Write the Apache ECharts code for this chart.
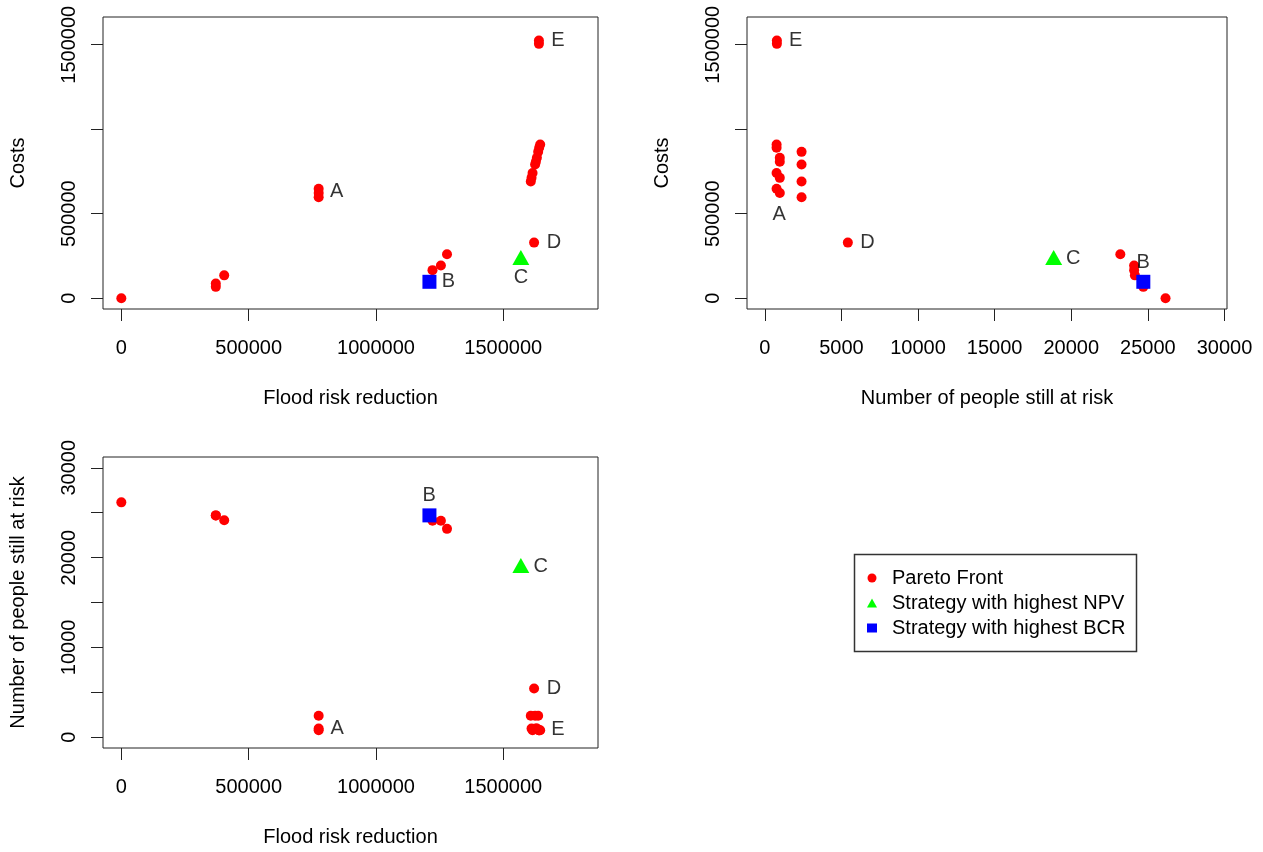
<!DOCTYPE html>
<html>
<head>
<meta charset="utf-8">
<script src="https://cdn.jsdelivr.net/npm/echarts@6/dist/echarts.min.js"></script>
<style>
html,body{margin:0;padding:0;background:#fff;}
#chart{width:1263px;height:852px;}
</style>
</head>
<body>
<div id="chart"></div>
<script>
// ---- data ----
const paretoFRR    = [0, 371000, 371000, 404000, 1222000, 1255000, 1279000, 775000, 775000, 775000, 1621000, 1645000, 1641000, 1637000, 1632000, 1628000, 1625000, 1615000, 1611000, 1608000, 1640000, 1640000];
const paretoCosts  = [0, 87000, 67000, 135000, 166000, 193000, 260000, 648000, 622000, 597000, 329000, 910000, 890000, 866000, 831000, 807000, 791000, 741000, 712000, 691000, 1525000, 1505000];
const paretoPeople = [26150, 24700, 24700, 24150, 24100, 24100, 23200, 770, 980, 2400, 5420, 770, 770, 2400, 980, 980, 2400, 770, 980, 2400, 790, 790];

const npvFRR = 1569000, npvCosts = 226000, npvPeople = 18850;   // C
const bcrFRR = 1210000, bcrCosts = 97000,  bcrPeople = 24700;   // B

const frrTicks = [0, 500000, 1000000, 1500000];
const frrLabels = [0, 500000, 1000000, 1500000];
const costTicks = [0, 500000, 1000000, 1500000];
const costLabels = [0, 500000, 1500000];
const peopleTicks = [0, 5000, 10000, 15000, 20000, 25000, 30000];
const peopleLabelsX = [0, 5000, 10000, 15000, 20000, 25000, 30000];
const peopleLabelsY = [0, 10000, 20000, 30000];

// annotation letters: [text, x value, y value]
const notes1 = [['A', 845700, 630000], ['B', 1285000, 97000], ['C', 1569000, 120000], ['D', 1699000, 330000], ['E', 1715000, 1524000]];
const notes2 = [['A', 933, 498000], ['B', 24690, 210000], ['C', 20120, 236000], ['D', 6700, 331000], ['E', 2010, 1524000]];
const notes3 = [['A', 847600, 960], ['B', 1209000, 26880], ['C', 1647000, 18990], ['D', 1699000, 5420], ['E', 1715000, 814]];

const seriesNames = ['Pareto Front', 'Strategy with highest NPV', 'Strategy with highest BCR'];

// ---- chart ----
const FONT = 'Liberation Sans, Arial, Helvetica, sans-serif';
const txt = {fontFamily: FONT, fontSize: 20, color: '#000'};
const chart = echarts.init(document.getElementById('chart'), null, {renderer: 'canvas'});

const ranges = {
  frr: [-72000, 1872000],
  cost: [-64000, 1664000],
  peopleX: [-1160, 30160],
  peopleY: [-1200, 31200]
};

function xAxis(gi, rng, ticks, labels, name) {
  return {
    gridIndex: gi, type: 'value', min: rng[0], max: rng[1],
    axisLine: {show: false, onZero: false},
    axisTick: {show: true, inside: false, length: 12, lineStyle: {color: '#222', width: 1}, customValues: ticks},
    axisLabel: Object.assign({customValues: labels, margin: 29, formatter: v => String(v)}, txt),
    splitLine: {show: false},
    name: name, nameLocation: 'middle', nameGap: 79, nameTextStyle: Object.assign({}, txt)
  };
}
function yAxis(gi, rng, ticks, labels, name) {
  return {
    gridIndex: gi, type: 'value', min: rng[0], max: rng[1],
    axisLine: {show: false, onZero: false},
    axisTick: {show: true, inside: false, length: 12, lineStyle: {color: '#222', width: 1}, customValues: ticks},
    axisLabel: Object.assign({customValues: labels, margin: 24, rotate: 90, formatter: v => String(v)}, txt),
    splitLine: {show: false},
    name: name, nameLocation: 'middle', nameGap: 75, nameTextStyle: Object.assign({}, txt)
  };
}

function pairs(xs, ys) { return xs.map((x, i) => [x, ys[i]]); }

function panelSeries(gi, xs, ys, npv, bcr, notes) {
  return [
    {type: 'scatter', name: seriesNames[0], xAxisIndex: gi, yAxisIndex: gi, data: pairs(xs, ys),
     symbol: 'circle', symbolSize: 10, itemStyle: {color: '#ff0000', opacity: 1}, z: 2},
    {type: 'scatter', name: seriesNames[1], xAxisIndex: gi, yAxisIndex: gi, data: [npv],
     symbol: 'triangle', symbolSize: [17, 15], symbolOffset: [0, -2.5], itemStyle: {color: '#00ff00', opacity: 1}, z: 3},
    {type: 'scatter', name: seriesNames[2], xAxisIndex: gi, yAxisIndex: gi, data: [bcr],
     symbol: 'rect', symbolSize: 14, itemStyle: {color: '#0000ff', opacity: 1}, z: 3},
    {type: 'scatter', name: 'notes', xAxisIndex: gi, yAxisIndex: gi, silent: true,
     data: notes.map(n => ({name: n[0], value: [n[1], n[2]]})),
     symbolSize: 1, itemStyle: {color: 'rgba(0,0,0,0)'},
     label: Object.assign({show: true, position: 'inside', formatter: '{b}', align: 'center', verticalAlign: 'middle', textBorderWidth: 0}, txt),
     z: 4}
  ];
}

const option = {
  animation: false,
  backgroundColor: '#fff',
  grid: [
    {left: 103, top: 17, width: 495, height: 292, show: true, borderColor: '#222', borderWidth: 1, backgroundColor: 'transparent'},
    {left: 747, top: 17, width: 480, height: 292, show: true, borderColor: '#222', borderWidth: 1, backgroundColor: 'transparent'},
    {left: 103, top: 457, width: 495, height: 291, show: true, borderColor: '#222', borderWidth: 1, backgroundColor: 'transparent'}
  ],
  xAxis: [
    xAxis(0, ranges.frr, frrTicks, frrLabels, 'Flood risk reduction'),
    xAxis(1, ranges.peopleX, peopleTicks, peopleLabelsX, 'Number of people still at risk'),
    xAxis(2, ranges.frr, frrTicks, frrLabels, 'Flood risk reduction')
  ],
  yAxis: [
    yAxis(0, ranges.cost, costTicks, costLabels, 'Costs'),
    yAxis(1, ranges.cost, costTicks, costLabels, 'Costs'),
    yAxis(2, ranges.peopleY, peopleTicks, peopleLabelsY, 'Number of people still at risk')
  ],
  legend: {
    orient: 'vertical', left: 867, top: 568, padding: 0, itemGap: 5,
    itemWidth: 10, itemHeight: 9,
    textStyle: Object.assign({padding: [0, 0, 0, 10], lineHeight: 20}, txt),
    data: [
      {name: seriesNames[0], icon: 'circle'},
      {name: seriesNames[1], icon: 'triangle'},
      {name: seriesNames[2], icon: 'rect'}
    ],
    selectedMode: false
  },
  graphic: [
    {type: 'rect', left: 852, top: 552, shape: {width: 282, height: 97}, style: {fill: 'none', stroke: '#333', lineWidth: 1.5}, z: 0}
  ],
  series: [].concat(
    panelSeries(0, paretoFRR, paretoCosts, [npvFRR, npvCosts], [bcrFRR, bcrCosts], notes1),
    panelSeries(1, paretoPeople, paretoCosts, [npvPeople, npvCosts], [bcrPeople, bcrCosts], notes2),
    panelSeries(2, paretoFRR, paretoPeople, [npvFRR, npvPeople], [bcrFRR, bcrPeople], notes3)
  )
};
chart.setOption(option);
</script>
</body>
</html>
